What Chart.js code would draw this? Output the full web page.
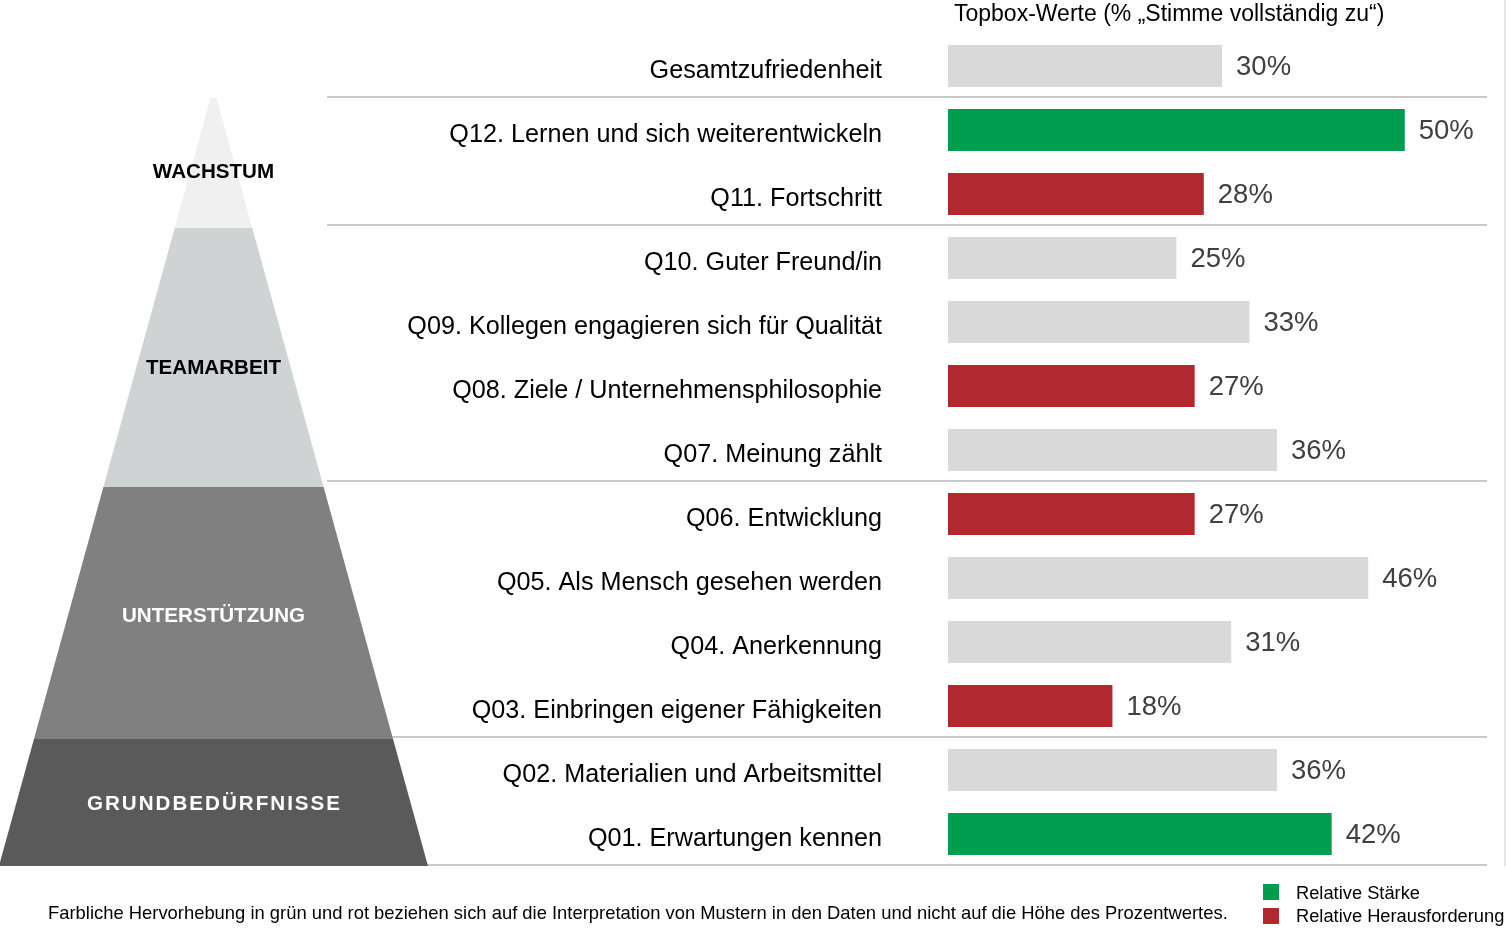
<!DOCTYPE html>
<html>
<head>
<meta charset="utf-8">
<script src="https://cdn.jsdelivr.net/npm/chart.js@4"></script>
<style>
  html, body { margin: 0; padding: 0; background: #fff; }
  #wrap { position: relative; width: 1506px; height: 929px; overflow: hidden; font-family: "Liberation Sans", Arial, sans-serif; }
  #wrap canvas { position: absolute; left: 0; top: 0; }
  .txt { position: absolute; white-space: nowrap; color: #000; }
  #title { left: 954px; top: 0px; font-size: 23px; line-height: 26px; }
  #foot { left: 48px; top: 902px; font-size: 18.4px; line-height: 22px; }
  .sw { position: absolute; width: 16px; height: 16px; }
  .lg { position: absolute; left: 1296px; font-size: 18.3px; line-height: 22px; color: #000; white-space: nowrap; }
</style>
</head>
<body>
<div id="wrap">
  <canvas id="c" width="1506" height="929"></canvas>
  <div id="title" class="txt">Topbox-Werte (% „Stimme vollständig zu“)</div>
  <div id="foot" class="txt">Farbliche Hervorhebung in grün und rot beziehen sich auf die Interpretation von Mustern in den Daten und nicht auf die Höhe des Prozentwertes.</div>
  <div class="sw" style="left:1263px;top:884px;background:#009d4f"></div>
  <div class="lg" style="top:882px">Relative Stärke</div>
  <div class="sw" style="left:1263px;top:908px;background:#b1282f"></div>
  <div class="lg" style="top:905px">Relative Herausforderung</div>
</div>
<script>
// ---- data ----
const categories = [
  "Gesamtzufriedenheit",
  "Q12. Lernen und sich weiterentwickeln",
  "Q11. Fortschritt",
  "Q10. Guter Freund/in",
  "Q09. Kollegen engagieren sich für Qualität",
  "Q08. Ziele / Unternehmensphilosophie",
  "Q07. Meinung zählt",
  "Q06. Entwicklung",
  "Q05. Als Mensch gesehen werden",
  "Q04. Anerkennung",
  "Q03. Einbringen eigener Fähigkeiten",
  "Q02. Materialien und Arbeitsmittel",
  "Q01. Erwartungen kennen"
];
const values = [30, 50, 28, 25, 33, 27, 36, 27, 46, 31, 18, 36, 42];
const highlight = ["none", "strength", "challenge", "none", "none", "challenge", "none", "challenge", "none", "none", "challenge", "none", "strength"];
const tierNames = ["WACHSTUM", "TEAMARBEIT", "UNTERSTÜTZUNG", "GRUNDBEDÜRFNISSE"];
const tierFirst = [1, 3, 7, 11];
const tierLast = [2, 6, 10, 12];
const legendLabels = ["Relative Stärke", "Relative Herausforderung"];

// ---- styles ----
const colorMap = { none: "#d9d9d9", strength: "#009d4f", challenge: "#b1282f" };
const tierFill = ["#f0f0f0", "#d0d3d4", "#808080", "#5a5a5a"];
const tierText = ["#000000", "#000000", "#ffffff", "#ffffff"];
const tierBottomShift = [2, 5, 1, 0];
const tierLabelShift = [11, 13, 5, 4];
const FONT = '"Liberation Sans", Arial, sans-serif';

const decorPlugin = {
  id: "decor",
  beforeDatasetsDraw(chart) {
    const ctx = chart.ctx;
    const y = chart.scales.y;
    const ca = chart.chartArea;
    ctx.save();
    // separator lines
    const bounds = [tierFirst[0] - 0.5].concat(tierLast.map(v => v + 0.5));
    ctx.strokeStyle = "#c8c9cb";
    ctx.lineWidth = 2;
    bounds.forEach(b => {
      const py = Math.round(y.getPixelForValue(b)) - 1;
      ctx.beginPath();
      ctx.moveTo(327, py);
      ctx.lineTo(ca.right, py);
      ctx.stroke();
    });
    // faint right border
    ctx.strokeStyle = "#e4e4e4";
    ctx.lineWidth = 2;
    ctx.beginPath();
    ctx.moveTo(1505, 0);
    ctx.lineTo(1505, ca.bottom);
    ctx.stroke();
    // pyramid
    const apexY = y.getPixelForValue(tierFirst[0] - 0.5);
    const baseY = y.getPixelForValue(tierLast[tierLast.length - 1] + 0.5);
    const cx = 213.5, halfBase = 214.5, halfTop = 3;
    const halfAt = py => halfTop + (halfBase - halfTop) * (py - apexY) / (baseY - apexY);
    let prevBottom = apexY;
    for (let i = 0; i < tierNames.length; i++) {
      const t = prevBottom;
      const b = i === tierNames.length - 1 ? baseY : y.getPixelForValue(tierLast[i] + 0.5) + tierBottomShift[i];
      prevBottom = b;
      ctx.fillStyle = tierFill[i];
      ctx.beginPath();
      ctx.moveTo(cx - halfAt(t), t);
      ctx.lineTo(cx + halfAt(t), t);
      ctx.lineTo(cx + halfAt(b), b);
      ctx.lineTo(cx - halfAt(b), b);
      ctx.closePath();
      ctx.fill();
      // label
      ctx.fillStyle = tierText[i];
      ctx.font = "bold 20.6px " + FONT;
      ctx.textAlign = "center";
      ctx.textBaseline = "middle";
      const ly = (t + b) / 2 + tierLabelShift[i] - 2;
      if (i === 3) {
        ctx.letterSpacing = "2px";
        ctx.fillText(tierNames[i], cx + 1, ly);
        ctx.letterSpacing = "0px";
      } else {
        ctx.fillText(tierNames[i], cx, ly);
      }
    }
    ctx.restore();
  },
  afterDatasetsDraw(chart) {
    const ctx = chart.ctx;
    const meta = chart.getDatasetMeta(0);
    ctx.save();
    ctx.font = "27.5px " + FONT;
    ctx.fillStyle = "#404040";
    ctx.textAlign = "left";
    ctx.textBaseline = "middle";
    meta.data.forEach((bar, i) => {
      ctx.fillText(values[i] + "%", bar.x + 14, bar.y + 1);
    });
    ctx.restore();
  }
};

new Chart(document.getElementById("c"), {
  type: "bar",
  data: {
    labels: categories,
    datasets: [{
      data: values,
      backgroundColor: highlight.map(h => colorMap[h]),
      borderWidth: 0,
      categoryPercentage: 1,
      barPercentage: 42 / 64
    }]
  },
  options: {
    indexAxis: "y",
    responsive: false,
    animation: false,
    devicePixelRatio: 1,
    layout: { padding: { left: 0, right: 19, top: 34, bottom: 63 } },
    plugins: { legend: { display: false }, tooltip: { enabled: false } },
    scales: {
      x: { min: 0, max: 59, display: false },
      y: {
        grid: { display: false, drawTicks: false },
        border: { display: false },
        ticks: {
          padding: 66,
          labelOffset: 5,
          color: "#000000",
          font: { family: FONT, size: 25.2 }
        },
        afterFit(scale) {
          scale.width = 948;
          scale.paddingTop = 0;
          scale.paddingBottom = 0;
        }
      }
    }
  },
  plugins: [decorPlugin]
});
</script>
</body>
</html>
